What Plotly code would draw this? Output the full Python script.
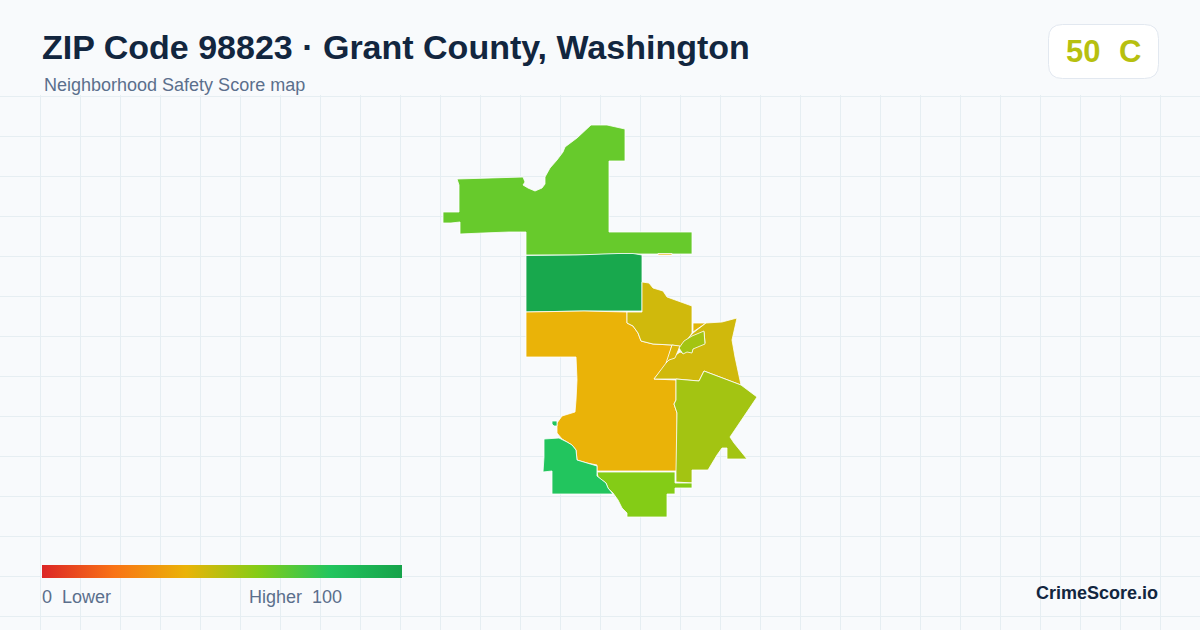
import plotly.graph_objects as go
import plotly.colors as pc

W, H = 1200, 630
HEADER = 95

TITLE = "ZIP Code 98823 · Grant County, Washington"
SUBTITLE = "Neighborhood Safety Score map"
BRAND = "CrimeScore.io"
BADGE_SCORE = 50
BADGE_GRADE = "C"

SCALE_STOPS = [0, 0.2, 0.4, 0.6, 0.8, 1]
SCALE_COLORS = ["#dc2626", "#f97316", "#eab308", "#84cc16", "#22c55e", "#16a34a"]
COLORSCALE = [[s, c] for s, c in zip(SCALE_STOPS, SCALE_COLORS)]

# Area outlines and scores (x, y on the 1200x630 canvas)
north_x = [591,607,625,625,609,609,692,692,672,633,618,576,526,526,509,483,460,460,451,443,443,459,459,457,485,523,525,523,528,535,542,545,545,550,557,563,565,577]
north_y = [125,125,129,161,161,232,232,254,254,254,254,255,255,232,232,233,234,222,223,223,212,212,185,179,178,177,182,185,188,191,188,184,177,168,160,152,147,138]
north_score = 66

sliver_x = [658,672,672,658]
sliver_y = [253.5,253.5,255,255]
sliver_score = 40

block_x = [526,576,618,633,642,642,584,526]
block_y = [255.5,255,253.5,253.5,255,311,311,312]
block_score = 97

central_x = [526,584,627,627,633,638,641,653,672,667,654,676,676,674,677,677,597,597,587,577,576,572,567,562,557,557,562,575,576,577,576,526]
central_y = [312,311,312,323,326,333,341,344,345,363,379,380,400,404,413,471,471,465,463,460,450,445,442,439,433,423,416,412,400,380,357,357]
central_score = 40

northeast_x = [642,649,653,663,667,673,692,692,683,672,653,641,638,633,627,627,642]
northeast_y = [282,283,288,291,297,299,306,333,347,345,344,341,333,326,323,312,312]
northeast_score = 45

tip_x = [693,706,693]
tip_y = [323,323,332]
tip_score = 42

east_x = [737,732,735,741,704,699,676,654,666,669,680,683,687,692,693,705,704,692,685,693,706,722]
east_y = [318,340,357,385,371,381,379,379,363,360,352,353,351,352,348,343,332,337,342,333,323,322]
east_score = 45

wedge_x = [672,680,675,669,666]
wedge_y = [345,346,358,360,363]
wedge_score = 43

inner_x = [684,692,704,705,693,692,687,683,679]
inner_y = [341,336,331,344,349,353,352,354,348]
inner_score = 54

southeast_x = [676,699,704,741,757,730,734,747,727,727,722,717,708,692,692,676,676,677,674,676]
southeast_y = [379,381,371,385,397,437,443,459,459,448,448,455,470,470,483,482,470,413,404,400]
southeast_score = 54

south_x = [597,675,675,692,692,675,675,667,667,627,627,622,618,613,608,606,598]
south_y = [472,472,483,483,488,488,494,494,517,517,513,508,500,493,488,483,477]
south_score = 60

southwest_x = [544,559,567,572,576,577,587,597,597,606,608,613,552,552,543,544]
southwest_y = [439,438,442,445,450,460,463,466,476,483,488,494,494,471,472,457]
southwest_score = 80

islet_x = [552,557,557,554,552]
islet_y = [421,421,426,426,424]
islet_score = 80

AREAS = [
    (north_x, north_y, north_score),
    (sliver_x, sliver_y, sliver_score),
    (block_x, block_y, block_score),
    (central_x, central_y, central_score),
    (northeast_x, northeast_y, northeast_score),
    (tip_x, tip_y, tip_score),
    (east_x, east_y, east_score),
    (wedge_x, wedge_y, wedge_score),
    (inner_x, inner_y, inner_score),
    (southeast_x, southeast_y, southeast_score),
    (south_x, south_y, south_score),
    (southwest_x, southwest_y, southwest_score),
    (islet_x, islet_y, islet_score),
]


def score_color(score):
    t = score / 100
    for (s0, c0), (s1, c1) in zip(COLORSCALE, COLORSCALE[1:]):
        if t <= s1:
            mix = pc.find_intermediate_color(pc.hex_to_rgb(c0), pc.hex_to_rgb(c1), (t - s0) / (s1 - s0))
            return "rgb({:.0f},{:.0f},{:.0f})".format(*mix)
    return SCALE_COLORS[-1]


fig = go.Figure()
for xs, ys, score in AREAS:
    fig.add_trace(go.Scatter(
        x=xs + xs[:1], y=ys + ys[:1], mode="lines", fill="toself",
        fillcolor=score_color(score), line=dict(color="#ffffff", width=0.8),
        hoverinfo="skip", showlegend=False,
    ))

# Gradient legend through the library's own colorbar
fig.add_trace(go.Scatter(
    x=[None, None], y=[None, None], mode="markers", showlegend=False, hoverinfo="skip",
    marker=dict(
        color=[0, 100], cmin=0, cmax=100, colorscale=COLORSCALE, showscale=True,
        colorbar=dict(
            orientation="h", lenmode="pixels", len=360, thickness=13, thicknessmode="pixels",
            x=42 / W, xanchor="left", y=1 - 565 / H, yanchor="top", xpad=0, ypad=0,
            outlinewidth=0, borderwidth=0, ticks="", showticklabels=False,
        ),
    ),
))


def label(text, x, y, size, color, anchor="left", bold=False):
    fig.add_annotation(
        text=f"<b>{text}</b>" if bold else text,
        xref="paper", yref="paper", x=x / W, y=1 - y / H,
        xanchor=anchor, yanchor="middle", showarrow=False, borderpad=0, borderwidth=0,
        font=dict(family="Liberation Sans", size=size, color=color),
    )


NAVY = "#12263f"
SLATE = "#5b6f8c"
label(TITLE, 42, 47, 34, NAVY, bold=True)
label(SUBTITLE, 44, 85, 18, SLATE)
label(str(BADGE_SCORE), 1066, 51, 31, score_color(BADGE_SCORE), bold=True)
label(BADGE_GRADE, 1119, 51, 31, score_color(BADGE_SCORE), bold=True)
label("0  Lower".replace(" ", "\u00a0"), 42, 597, 18, SLATE)
label("Higher  100".replace(" ", "\u00a0"), 249, 597, 18, SLATE)
label(BRAND, 1158, 593, 18, NAVY, anchor="right", bold=True)

# Score badge
bx0, bx1, by0, by1, r = 1048.5 / W, 1158.5 / W, 1 - 24.5 / H, 1 - 78.5 / H, 14
rx, ry = r / W, r / H
fig.add_shape(
    type="path", xref="paper", yref="paper", fillcolor="#ffffff",
    line=dict(color="#e2e8f0", width=1),
    path=(f"M {bx0+rx} {by0} L {bx1-rx} {by0} Q {bx1} {by0} {bx1} {by0-ry} "
          f"L {bx1} {by1+ry} Q {bx1} {by1} {bx1-rx} {by1} L {bx0+rx} {by1} "
          f"Q {bx0} {by1} {bx0} {by1+ry} L {bx0} {by0-ry} Q {bx0} {by0} {bx0+rx} {by0} Z"),
)

GRID = "#e6eef2"
fig.update_layout(
    width=W, height=H, autosize=False,
    margin=dict(l=0, r=0, t=0, b=0, pad=0, autoexpand=False),
    paper_bgcolor="#f8fafc", plot_bgcolor="#f8fafc", showlegend=False,
    xaxis=dict(range=[0, W], domain=[0, 1], showgrid=True, gridcolor=GRID, gridwidth=1,
               tick0=0.5, dtick=40, showticklabels=False, zeroline=False, ticks="", fixedrange=True),
    yaxis=dict(range=[H, HEADER], domain=[0, (H - HEADER) / H], showgrid=True, gridcolor=GRID, gridwidth=1,
               tick0=96.5, dtick=40, showticklabels=False, zeroline=False, ticks="", fixedrange=True),
)

fig.write_html(
    "out.html",
    config={"displayModeBar": False},
    post_script="document.body.style.margin='0';document.body.style.background='#f8fafc';",
)
